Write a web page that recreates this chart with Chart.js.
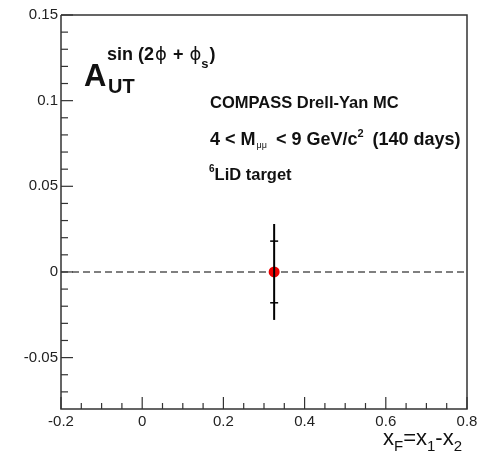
<!DOCTYPE html>
<html>
<head>
<meta charset="utf-8">
<script src="https://cdn.jsdelivr.net/npm/chart.js@4.4.1/dist/chart.umd.min.js"></script>
<style>
  html, body { margin: 0; padding: 0; background: #fff; }
  #wrap { width: 477px; height: 454px; position: relative; }
</style>
</head>
<body>
<div id="wrap"><canvas id="chart"></canvas></div>
<script>
// measured asymmetry, one x_F bin
const xValues = [0.325];
const yValues = [0.0];
const statErrors = [0.018];
const totalErrors = [0.028];

const xTicks = [-0.2, 0, 0.2, 0.4, 0.6, 0.8];
const xTickLabels = ["-0.2", "0", "0.2", "0.4", "0.6", "0.8"];
const yTicks = [-0.05, 0, 0.05, 0.1, 0.15];
const yTickLabels = ["-0.05", "0", "0.05", "0.1", "0.15"];

const FONT = "'Liberation Sans', Arial, sans-serif";
const AXIS_COLOR = "#333";

// draws a run of text pieces; a piece with x is placed there, otherwise it follows the previous one
function drawRich(ctx, x, y, parts) {
  let cx = x;
  parts.forEach((p) => {
    if (p.x !== undefined) cx = p.x;
    ctx.font = p.font;
    ctx.fillStyle = p.color || "#111";
    ctx.fillText(p.text, cx, y + (p.dy || 0));
    cx += ctx.measureText(p.text).width + (p.gap || 0);
  });
}

// inward ticks, frame, zero line, error bars and labels
const decorations = {
  id: "decorations",
  beforeDatasetsDraw(chart) {
    const { ctx, chartArea, scales } = chart;
    const y0 = scales.y.getPixelForValue(0);
    ctx.save();
    ctx.strokeStyle = "#555";
    ctx.lineWidth = 1.5;
    ctx.setLineDash([7, 4]);
    ctx.beginPath();
    ctx.moveTo(chartArea.left, y0);
    ctx.lineTo(chartArea.right, y0);
    ctx.stroke();
    ctx.restore();
  },
  afterDatasetsDraw(chart) {
    const { ctx, scales } = chart;
    ctx.save();
    ctx.strokeStyle = "#000";
    xValues.forEach((xv, i) => {
      const px = scales.x.getPixelForValue(xv);
      const top = scales.y.getPixelForValue(yValues[i] + totalErrors[i]);
      const bot = scales.y.getPixelForValue(yValues[i] - totalErrors[i]);
      ctx.lineWidth = 2;
      ctx.beginPath();
      ctx.moveTo(px, top);
      ctx.lineTo(px, bot);
      ctx.stroke();
      ctx.lineWidth = 1.5;
      [1, -1].forEach((s) => {
        const py = scales.y.getPixelForValue(yValues[i] + s * statErrors[i]);
        ctx.beginPath();
        ctx.moveTo(px - 4, py);
        ctx.lineTo(px + 4, py);
        ctx.stroke();
      });
    });
    ctx.restore();
  },
  afterDraw(chart) {
    const { ctx, chartArea, scales } = chart;
    const { left, right, top, bottom } = chartArea;
    ctx.save();
    ctx.strokeStyle = AXIS_COLOR;
    ctx.lineWidth = 1.5;

    // frame
    ctx.beginPath();
    ctx.moveTo(left, top);
    ctx.lineTo(right, top);
    ctx.lineTo(right, bottom);
    ctx.lineTo(left, bottom);
    ctx.lineTo(left, top);
    ctx.stroke();

    // x ticks every 0.05, long at labelled values
    ctx.lineWidth = 1.2;
    for (let k = -4; k <= 16; k++) {
      const px = scales.x.getPixelForValue(k * 0.05);
      const len = k % 4 === 0 ? 12 : 6;
      ctx.beginPath();
      ctx.moveTo(px, bottom);
      ctx.lineTo(px, bottom - len);
      ctx.stroke();
    }
    // y ticks every 0.01, long every 0.05
    for (let k = -7; k <= 15; k++) {
      const py = scales.y.getPixelForValue(k * 0.01);
      const len = k % 5 === 0 ? 12 : 7;
      ctx.beginPath();
      ctx.moveTo(left, py);
      ctx.lineTo(left + len, py);
      ctx.stroke();
    }

    ctx.textBaseline = "alphabetic";
    ctx.textAlign = "left";

    // axis title
    drawRich(ctx, 383, 445, [
      { text: "x", font: "22px " + FONT },
      { text: "F", font: "15px " + FONT, dy: 6 },
      { text: "=", font: "22px " + FONT },
      { text: "x", font: "22px " + FONT },
      { text: "1", font: "15px " + FONT, dy: 6 },
      { text: "-", font: "22px " + FONT },
      { text: "x", font: "22px " + FONT },
      { text: "2", font: "15px " + FONT, dy: 6 },
    ]);

    // asymmetry label
    drawRich(ctx, 84, 86, [{ text: "A", font: "bold 31px " + FONT }]);
    drawRich(ctx, 108, 93, [{ text: "UT", font: "bold 20px " + FONT }]);
    drawRich(ctx, 107, 60, [
      { text: "sin (2", font: "bold 18px " + FONT, gap: 1 },
      { text: "ϕ", font: "18px 'DejaVu Sans', " + FONT, gap: 1 },
      { text: " + ", font: "bold 18px " + FONT, gap: 1 },
      { text: "ϕ", font: "18px 'DejaVu Sans', " + FONT },
      { text: "s", font: "bold 13px " + FONT, dy: 8, gap: 1 },
      { text: ")", font: "bold 18px " + FONT },
    ]);

    // experiment info
    drawRich(ctx, 210, 108, [{ text: "COMPASS Drell-Yan MC", font: "bold 16.5px " + FONT }]);
    drawRich(ctx, 210, 145, [
      { text: "4 < M", font: "bold 18px " + FONT, gap: 1 },
      { text: "μμ", font: "9px " + FONT, dy: 3, gap: 4 },
      { text: " < 9 GeV/c", font: "bold 18px " + FONT },
      { text: "2", font: "bold 11px " + FONT, dy: -8, gap: 4 },
      { text: " (140 days)", font: "bold 18px " + FONT },
    ]);
    drawRich(ctx, 209, 180, [
      { text: "6", font: "bold 10px " + FONT, dy: -8 },
      { text: "LiD target", font: "bold 16.5px " + FONT },
    ]);
    ctx.restore();
  },
};

new Chart(document.getElementById("chart"), {
  type: "scatter",
  data: {
    datasets: [
      {
        data: xValues.map((x, i) => ({ x: x, y: yValues[i] })),
        pointRadius: 5.5,
        pointHoverRadius: 5.5,
        backgroundColor: "#ee0000",
        borderWidth: 0,
      },
    ],
  },
  options: {
    responsive: true,
    maintainAspectRatio: false,
    animation: false,
    events: [],
    layout: { padding: { top: 15, right: 10, left: 0, bottom: 0 } },
    plugins: {
      legend: { display: false },
      tooltip: { enabled: false },
    },
    scales: {
      x: {
        type: "linear",
        min: -0.2,
        max: 0.8,
        afterBuildTicks: (s) => {
          s.ticks = xTicks.map((v) => ({ value: v }));
        },
        afterFit: (s) => {
          s.height = 45;
          s.paddingLeft = 0;
          s.paddingRight = 0;
        },
        ticks: {
          padding: 4,
          maxRotation: 0,
          autoSkip: false,
          color: "#222",
          font: { family: FONT, size: 15 },
          callback: (v) => xTickLabels[xTicks.findIndex((t) => Math.abs(t - v) < 1e-9)],
        },
        grid: { display: false, drawTicks: false },
        border: { display: false },
      },
      y: {
        type: "linear",
        min: -0.08,
        max: 0.15,
        afterBuildTicks: (s) => {
          s.ticks = yTicks.map((v) => ({ value: v }));
        },
        afterFit: (s) => {
          s.width = 61;
          s.paddingTop = 0;
          s.paddingBottom = 0;
        },
        ticks: {
          padding: 3,
          autoSkip: false,
          color: "#222",
          font: { family: FONT, size: 15 },
          callback: (v) => yTickLabels[yTicks.findIndex((t) => Math.abs(t - v) < 1e-9)],
        },
        grid: { display: false, drawTicks: false },
        border: { display: false },
      },
    },
  },
  plugins: [decorations],
});
</script>
</body>
</html>
